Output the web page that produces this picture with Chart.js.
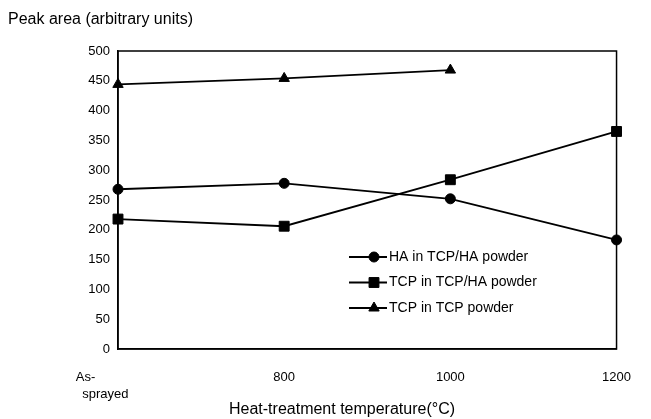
<!DOCTYPE html>
<html>
<head>
<meta charset="utf-8">
<script src="https://cdn.jsdelivr.net/npm/chart.js@4/dist/chart.umd.min.js"></script>
<style>
  html, body { margin: 0; padding: 0; background: #fff; }
  #wrap { width: 651px; height: 419px; }
</style>
</head>
<body>
<div id="wrap"><canvas id="grafico" width="651" height="419"></canvas></div>
<script>
// valores (As-sprayed posicionado em 600)
const temperaturas = [600, 800, 1000, 1200];
const haEmTcpHa = [268, 278, 252, 183];
const tcpEmTcpHa = [218, 206, 284, 365];
const tcpEmTcp = [444, 454, 468];
const ticksX = [600, 800, 1000, 1200];
const ticksY = [0, 50, 100, 150, 200, 250, 300, 350, 400, 450, 500];

const tituloY = 'Peak area (arbitrary units)';
const tituloX = 'Heat-treatment temperature(°C)';
const fonte = '"Liberation Sans", Arial, sans-serif';

const pontos = (vals) => vals.map((v, i) => ({ x: temperaturas[i], y: v }));

const raios = { circle: 5, rect: 7, triangle: 6 };

const serie = (label, vals, estilo) => ({
  label,
  data: pontos(vals),
  borderColor: '#000',
  backgroundColor: '#000',
  borderWidth: 1.8,
  pointStyle: estilo,
  pointRadius: raios[estilo],
  pointBorderWidth: 1,
  showLine: true,
  clip: false,
  tension: 0
});

// moldura + legenda + título do eixo x
const extras = {
  id: 'extras',
  beforeDatasetsDraw(chart) {
    const { ctx, chartArea: a } = chart;
    ctx.save();
    ctx.strokeStyle = '#000';
    ctx.lineWidth = 1.5;
    ctx.strokeRect(a.left, a.top, a.right - a.left, a.bottom - a.top);
    ctx.restore();
  },
  afterDraw(chart) {
    const { ctx } = chart;
    ctx.save();
    ctx.strokeStyle = '#000';
    ctx.font = '14px ' + fonte;
    ctx.fillStyle = '#000';
    ctx.textBaseline = 'middle';
    chart.data.datasets.forEach((ds, i) => {
      const y = 257 + i * 25.5;
      ctx.beginPath();
      ctx.moveTo(349, y);
      ctx.lineTo(387, y);
      ctx.lineWidth = 1.8;
      ctx.stroke();
      ctx.lineWidth = 1;
      Chart.helpers.drawPoint(ctx, {
        pointStyle: ds.pointStyle,
        radius: ds.pointRadius,
        rotation: 0,
        borderWidth: 1
      }, 374, y);
      ctx.fillText(ds.label, 389, y);
    });

    ctx.font = '16px ' + fonte;
    ctx.textAlign = 'center';
    ctx.fillText(tituloX, 342, 410);
    ctx.restore();
  }
};

new Chart(document.getElementById('grafico').getContext('2d'), {
  type: 'scatter',
  data: {
    datasets: [
      serie('HA in TCP/HA powder', haEmTcpHa, 'circle'),
      serie('TCP in TCP/HA powder', tcpEmTcpHa, 'rect'),
      serie('TCP in TCP powder', tcpEmTcp, 'triangle')
    ]
  },
  options: {
    responsive: false,
    animation: false,
    layout: { padding: { left: 8, right: 34, bottom: 0 } },
    plugins: {
      legend: { display: false },
      tooltip: { enabled: false },
      title: {
        display: true,
        text: tituloY,
        align: 'start',
        color: '#000',
        font: { family: fonte, size: 16, weight: 'normal' },
        padding: { top: 10, bottom: 21.8 }
      }
    },
    scales: {
      x: {
        type: 'linear',
        min: 600,
        max: 1200,
        afterBuildTicks: (s) => { s.ticks = ticksX.map(v => ({ value: v })); },
        afterFit: (s) => { s.height = 70; },
        grid: { display: false, drawTicks: false },
        border: { display: true, color: '#000', width: 1.5 },
        ticks: {
          color: '#000',
          padding: 20,
          maxRotation: 0,
          font: { family: fonte, size: 13, lineHeight: 1.3 },
          // espaços à direita deslocam o rótulo para a esquerda, como no original
          callback: (v) => v === 600
            ? ['As-                  ', 'sprayed       ']
            : String(v)
        }
      },
      y: {
        min: 0,
        max: 500,
        afterBuildTicks: (s) => { s.ticks = ticksY.map(v => ({ value: v })); },
        afterFit: (s) => { s.width = 110; },
        grid: { display: false, drawTicks: false },
        border: { display: true, color: '#000', width: 1.5 },
        ticks: {
          color: '#000',
          padding: 8,
          font: { family: fonte, size: 13 }
        }
      }
    }
  },
  plugins: [extras]
});
</script>
</body>
</html>
